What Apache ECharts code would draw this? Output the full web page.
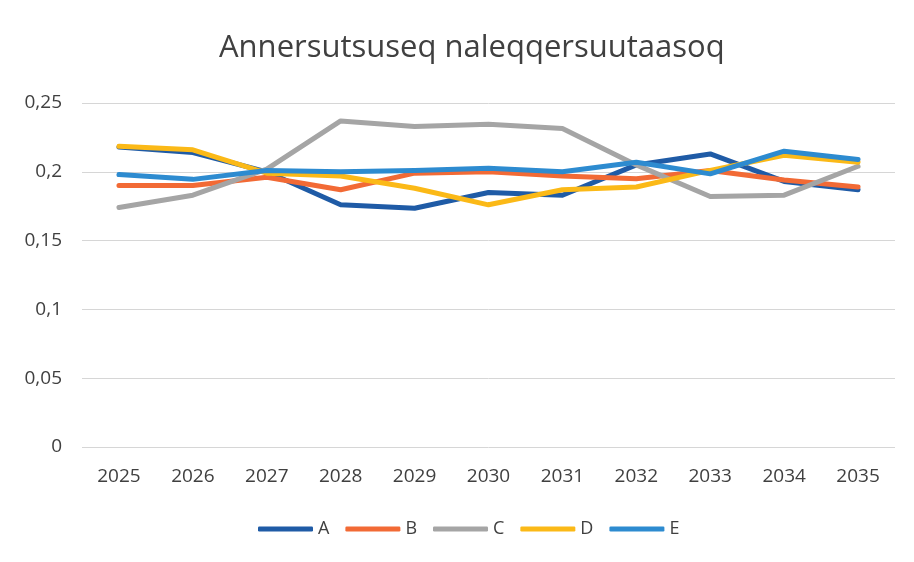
<!DOCTYPE html>
<html><head><meta charset="utf-8">
<script src="https://cdn.jsdelivr.net/npm/echarts@6/dist/echarts.min.js"></script>
<style>html,body{margin:0;padding:0;background:#fff}#c{width:914px;height:562px}</style>
</head><body><div id="c"></div>
<script>
const categories = ['2025','2026','2027','2028','2029','2030','2031','2032','2033','2034','2035'];
const seriesNames = ['A','B','C','D','E'];
const valuesA = [0.218,0.214,0.200,0.176,0.1735,0.185,0.183,0.205,0.213,0.193,0.187];
const valuesB = [0.190,0.190,0.196,0.187,0.199,0.200,0.197,0.195,0.201,0.194,0.189];
const valuesC = [0.174,0.183,0.202,0.237,0.233,0.2345,0.2315,0.205,0.182,0.183,0.204];
const valuesD = [0.2185,0.216,0.199,0.197,0.188,0.176,0.187,0.189,0.201,0.212,0.207];
const valuesE = [0.198,0.1945,0.201,0.200,0.201,0.2025,0.200,0.207,0.1985,0.215,0.209];
const yTicks = ['0','0,05','0,1','0,15','0,2','0,25'];
const colors = ['#1f5ba6','#f26a35','#a5a5a5','#fbb917','#2d8bd0'];
const allValues = [valuesA,valuesB,valuesC,valuesD,valuesE];
const font = '"Open Sans", sans-serif';
const chart = echarts.init(document.getElementById('c'));
chart.setOption({
  animation:false,
  title:{text:'Annersutsuseq naleqqersuutaasoq',left:214,top:28,
    textStyle:{fontFamily:font,fontSize:31,fontWeight:'normal',color:'#404040'}},
  grid:{left:82,right:19,top:103,bottom:115},
  legend:{bottom:19,left:253,itemWidth:55,itemHeight:5,icon:'roundRect',itemGap:16,
    textStyle:{fontFamily:font,fontSize:18,color:'#404040'},data:seriesNames},
  xAxis:{type:'category',data:categories,boundaryGap:true,
    axisLine:{show:false},axisTick:{show:false},
    axisLabel:{fontFamily:font,fontSize:19,color:'#404040',margin:20}},
  yAxis:{type:'value',min:0,max:0.25,interval:0.05,
    axisLabel:{fontFamily:font,fontSize:19,color:'#404040',margin:20,
      formatter:(v)=>yTicks[Math.round(v/0.05)]},
    splitLine:{lineStyle:{color:'#d6d6d6',width:1}}},
  series: seriesNames.map((n,i)=>({name:n,type:'line',data:allValues[i],
    showSymbol:false,symbol:'none',lineStyle:{width:5,color:colors[i],cap:'round',join:'round'},
    itemStyle:{color:colors[i]}}))
});
</script></body></html>
